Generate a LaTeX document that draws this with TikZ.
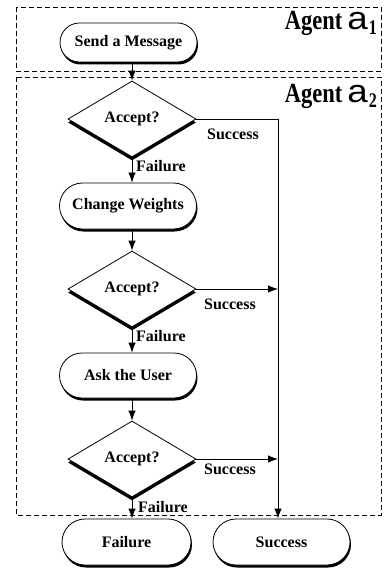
\documentclass[tikz,border=0pt]{standalone}
\usepackage{fontspec}
\setmainfont{Liberation Serif}
\newfontfamily\sansA{Liberation Sans}
\usetikzlibrary{shapes.geometric,shapes.misc,arrows.meta,shadows}
\newcommand{\agentlabel}[1]{\scalebox{1}[1.23]{\fontsize{22.5}{22}\selectfont\bfseries Agent}\hspace{5pt}\scalebox{1.15}[1]{\sansA\mdseries\fontsize{32}{32}\selectfont a}\hspace{1pt}\raisebox{-5pt}{\scalebox{1}[1.3]{\fontsize{16}{16}\selectfont\bfseries #1}}}
\begin{document}
\begin{tikzpicture}[x=1pt,y=-1pt,
  every node/.style={font=\fontsize{16}{18}\selectfont\bfseries},
  rbox/.style={rounded rectangle, draw, fill=white, line width=0.8pt, minimum width=137pt, minimum height=45pt, inner sep=0pt,
    drop shadow={shadow xshift=1pt, shadow yshift=-2.5pt, fill=black, opacity=1}},
  dbox/.style={diamond, draw, fill=white, line width=0.8pt, minimum width=128pt, minimum height=76pt, inner sep=0pt,
    drop shadow={shadow xshift=0pt, shadow yshift=-3.5pt, fill=black, opacity=1}},
  arr/.style={-{Latex[length=10pt,width=7.5pt]}, line width=0.8pt},
  ln/.style={line width=0.8pt},
  lane/.style={dash pattern=on 5pt off 3pt, line width=0.8pt},
  lbl/.style={inner sep=0pt, anchor=west}
]
\useasboundingbox (0,0) rectangle (384,569);
\draw[lane] (16,7) rectangle (381,71);
\draw[lane] (16,77) rectangle (381,515);
\node[inner sep=0pt, anchor=base east] (ag1) at (377,30) {\agentlabel{1}};
\node[inner sep=0pt, anchor=base east] (ag2) at (377,103) {\agentlabel{2}};

\node[rbox, minimum height=39pt] (send) at (128.5,42.5) {Send a Message};
\node[dbox] (d1) at (132,119) {Accept?};
\node[rbox, minimum height=46pt] (cw) at (128,206) {Change Weights};
\node[dbox] (d2) at (132,289) {Accept?};
\node[rbox] (ask) at (128,375.5) {Ask the User};
\node[dbox] (d3) at (132,459) {Accept?};
\node[rbox, minimum width=129pt, minimum height=46pt] (fail) at (126.5,542) {Failure};
\node[rbox, minimum height=46pt] (succ) at (281.5,542) {Success};

\coordinate (j1) at (278,119);
\draw[ln] (d1.east) -- (j1);
\draw[arr] (j1) -- (j1 |- succ.north);
\draw[arr] (d2.east) -- (d2.east -| j1);
\draw[arr] (d3.east) -- (d3.east -| j1);
\draw[arr] (d1.north |- send.south) -- (d1.north);
\draw[arr] (d1.south) -- (d1.south |- cw.north);
\draw[arr] (cw.south -| d2.north) -- (d2.north);
\draw[arr] (d2.south) -- (d2.south |- ask.north);
\draw[arr] (ask.south -| d3.north) -- (d3.north);
\draw[arr] (d3.south) -- (d3.south |- fail.north);

\node[lbl] (s1) at (207,134) {Success};
\node[lbl] (s2) at (204,304) {Success};
\node[lbl] (s3) at (204,469) {Success};
\node[lbl] (f1) at (136,166) {Failure};
\node[lbl] (f2) at (136,336) {Failure};
\node[lbl] (f3) at (138,507) {Failure};
\end{tikzpicture}
\end{document}
